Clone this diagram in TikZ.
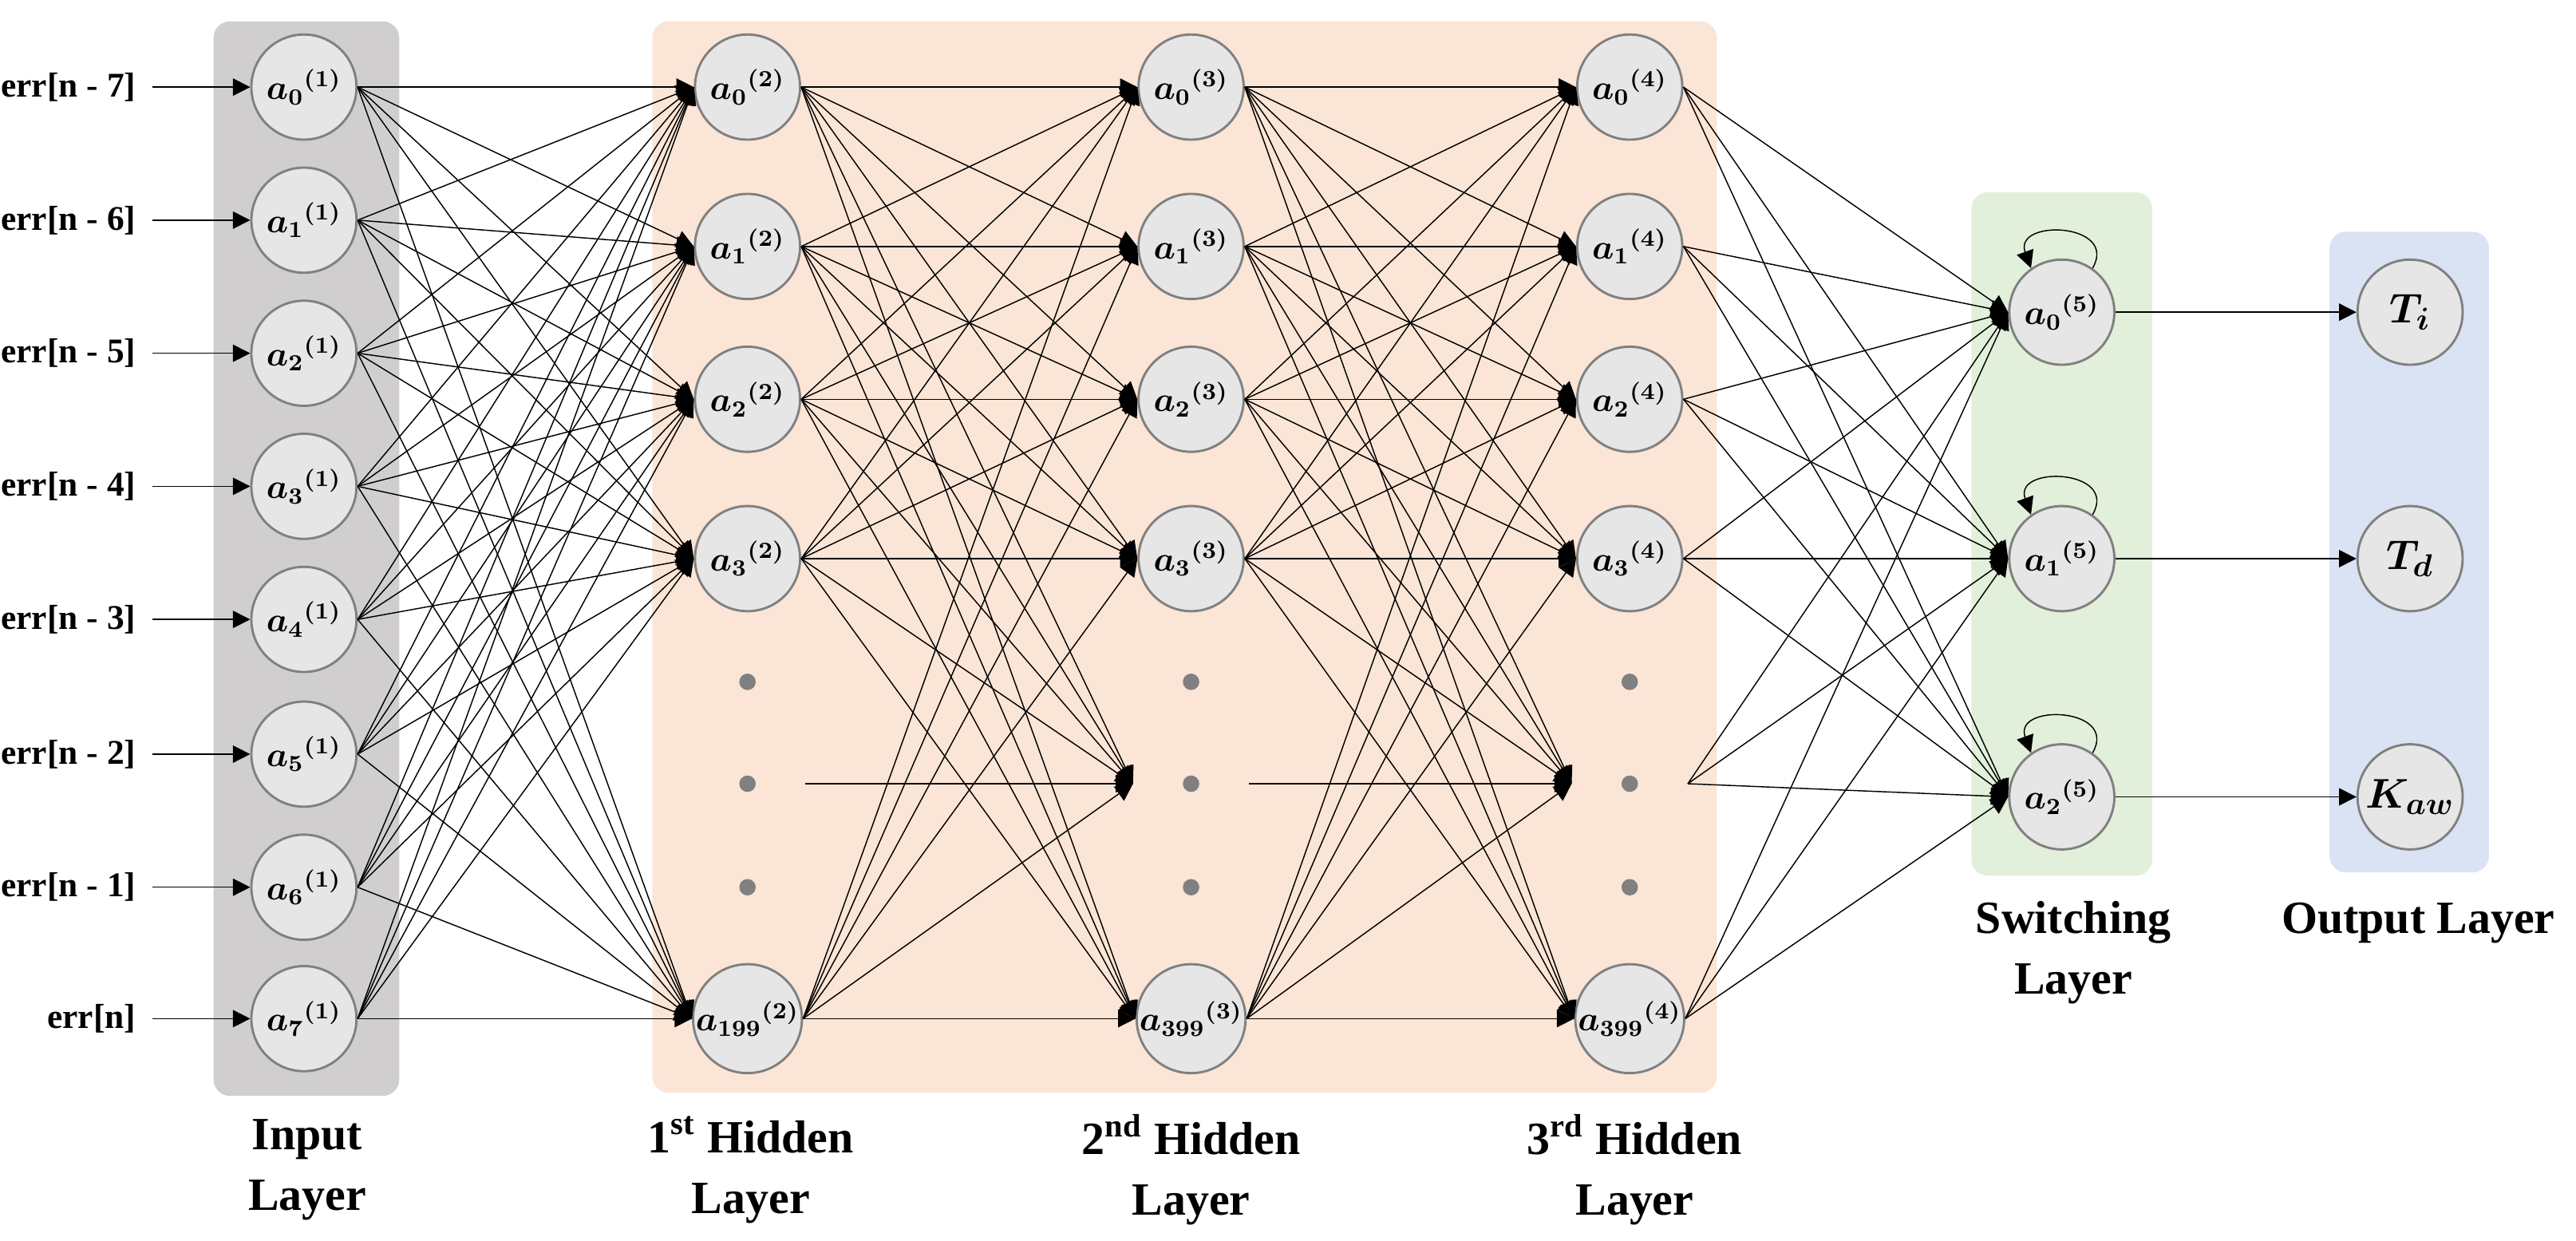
\documentclass[tikz,border=0pt]{standalone}
\usepackage{fontspec}
\setmainfont{Liberation Serif}
\usepackage{bm}
\usetikzlibrary{arrows.meta}
\definecolor{boxgray}{RGB}{208,206,206}
\definecolor{boxpeach}{RGB}{251,229,214}
\definecolor{boxgreen}{RGB}{226,239,218}
\definecolor{boxblue}{RGB}{218,227,243}
\definecolor{nodefill}{RGB}{230,230,230}
\tikzset{
  neuron/.style={circle, draw=black!50, line width=0.8pt, fill=nodefill, minimum size=1.28cm, inner sep=0pt, font=\fontsize{12}{14}\selectfont},
  hidden/.style={circle, minimum size=1.4cm, inner sep=0pt},
  link/.style={-{Triangle[length=6pt,width=6pt]}, line width=0.4pt},
  layerbox/.style={rounded corners=0.2cm},
  layername/.style={align=center, font=\bfseries\fontsize{16}{21}\selectfont},
  errtext/.style={anchor=east, inner sep=0pt, font=\bfseries\fontsize{12}{14}\selectfont},
}
\begin{document}
\begin{tikzpicture}[x=0.02cm, y=-0.02cm]
\useasboundingbox (0,0) rectangle (1568,755);
% layer backgrounds
\fill[layerbox, boxgray] (130,13) rectangle (243,667);
\fill[layerbox, boxpeach] (397,13) rectangle (1045,665);
\fill[layerbox, boxgreen] (1200,117) rectangle (1310,533);
\fill[layerbox, boxblue] (1418,141) rectangle (1515,531);

% input layer
\foreach \i/\y/\t in {0/53/err[n - 7],1/134/err[n - 6],2/215/err[n - 5],3/296/err[n - 4],
                      4/377/err[n - 3],5/459/err[n - 2],6/540/err[n - 1],7/620/err[n]} {
  \node[neuron] (I\i) at (185,\y) {$\bm{{a_{\i}}^{(1)}}$};
  \node[errtext] (X\i) at (83,\y) {\t};
  \draw[link] ([xshift=0.2cm]X\i.east) -- (I\i.west);
}

% hidden layers
\foreach \k/\x/\last in {2/455/199,3/725/399,4/992/399} {
  \foreach \i/\y in {0/53,1/150,2/243,3/340}
    \node[neuron] (H\k-\i) at (\x,\y) {$\bm{{a_{\i}}^{(\k)}}$};
  \node[neuron] (H\k-L) at (\x,620) {$\bm{{a_{\last}}^{(\k)}}$};
  \node[hidden] (H\k-M) at (\x,477) {};
  \foreach \y in {415,477,540}
    \fill[black!50] (\x,\y) circle (0.1cm);
}

% switching and output layers
\foreach \i/\y/\t in {0/190/T_i,1/340/T_d,2/485/K_{aw}} {
  \node[neuron] (S\i) at (1255,\y) {$\bm{{a_{\i}}^{(5)}}$};
  \node[neuron] (O\i) at (1467,\y) {\fontsize{15}{17}\selectfont$\bm{\t}$};
  \draw[link] (S\i.east) -- (O\i.west);
  \draw[link] (S\i.55) to[out=60, in=110, looseness=2.2] (S\i.125);
}

% connections
\foreach \s in {0,...,7}
  \foreach \t in {0,1,2,3,L}
    \draw[link] (I\s.east) -- (H2-\t.west);
\foreach \k/\n in {2/3,3/4} {
  \foreach \s in {0,1,2,3,L}
    \foreach \t in {0,1,2,3,L,M}
      \draw[link] (H\k-\s.east) -- (H\n-\t.west);
  \draw[link] (H\k-M.east) -- (H\n-M.west);
}
\foreach \s in {0,1,2,3,L,M}
  \foreach \t in {0,1,2}
    \draw[link] (H4-\s.east) -- (S\t.west);

% layer names
\node[layername] (nIn) at (187,712) {Input\\Layer};
\node[layername] (nH1) at (457,712) {1\textsuperscript{st} Hidden\\Layer};
\node[layername] (nH2) at (725,712) {2\textsuperscript{nd} Hidden\\Layer};
\node[layername] (nH3) at (995,712) {3\textsuperscript{rd} Hidden\\Layer};
\node[layername] (nSw) at (1262,580) {Switching\\Layer};
\node[layername] (nOut) at (1472,562) {Output Layer};
\end{tikzpicture}
\end{document}
